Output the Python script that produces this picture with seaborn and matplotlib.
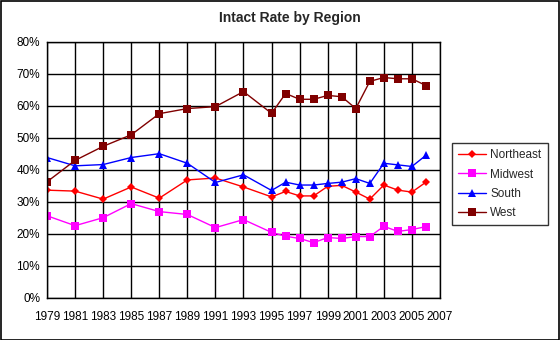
import matplotlib
matplotlib.use("Agg")
import matplotlib.pyplot as plt
import seaborn as sns
import pandas as pd
from matplotlib.patches import Rectangle
from matplotlib.ticker import FuncFormatter

years = [1979, 1981, 1983, 1985, 1987, 1989, 1991, 1993, 1995, 1996, 1997,
         1998, 1999, 2000, 2001, 2002, 2003, 2004, 2005, 2006]
northeast = [33.7, 33.4, 30.9, 34.7, 31.2, 36.9, 37.5, 34.7, 31.6, 33.3, 31.9,
             31.9, 34.9, 35.2, 33.1, 30.9, 35.3, 33.7, 33.1, 36.2]
midwest = [25.7, 22.6, 25.1, 29.5, 27.0, 26.1, 22.0, 24.5, 20.5, 19.3, 18.6,
           17.3, 18.9, 18.6, 19.2, 19.2, 22.4, 20.8, 21.4, 22.3]
south = [43.9, 41.3, 41.7, 43.9, 45.1, 42.1, 36.1, 38.5, 33.6, 36.2, 35.3,
         35.3, 35.8, 36.2, 37.3, 35.8, 42.1, 41.6, 41.1, 44.6]
west = [36.3, 43.0, 47.4, 51.0, 57.6, 59.2, 59.8, 64.5, 57.7, 63.9, 62.1,
        62.1, 63.3, 62.9, 59.2, 67.7, 68.9, 68.5, 68.5, 66.4]
regions = ["Northeast", "Midwest", "South", "West"]
series = [northeast, midwest, south, west]

rows = []
for name, vals in zip(regions, series):
    for y, v in zip(years, vals):
        rows.append({"Year": y, "Rate": v, "Region": name})
df = pd.DataFrame(rows)

sns.set_style("white")
plt.rcParams["font.family"] = ["Liberation Sans", "DejaVu Sans"]

fig = plt.figure(figsize=(5.6, 3.4), dpi=100)
ax = fig.add_axes([47/560, 1-298/340, (440-47)/560, (298-42)/340])

palette = {"Northeast": "#FF0000", "Midwest": "#FF00FF", "South": "#0000FF", "West": "#800000"}
markers = {"Northeast": "D", "Midwest": "s", "South": "^", "West": "s"}
sns.lineplot(data=df, x="Year", y="Rate", hue="Region", style="Region",
             hue_order=regions, style_order=regions,
             palette=palette, markers=markers, dashes=False,
             linewidth=1, markersize=5.5, markeredgewidth=0, ax=ax)
for line in ax.lines:
    if line.get_marker() == "D":
        line.set_markersize(4.5)

ax.set_xlim(1979, 2007)
ax.set_ylim(0, 80)
ax.set_xticks(range(1979, 2008, 2))
ax.set_yticks(range(0, 81, 10))
ax.yaxis.set_major_formatter(FuncFormatter(lambda v, p: f"{int(v)}%"))
ax.grid(True, color="black", linewidth=1)
ax.set_axisbelow(True)
for s in ax.spines.values():
    s.set_color("black")
    s.set_linewidth(1)
ax.tick_params(axis="both", length=0, labelsize=8.5, colors="black", pad=5)
ax.tick_params(axis="x", pad=9)
ax.set_xlabel("")
ax.set_ylabel("")

fig.text(290/560, 1-18/340, "Intact Rate by Region", ha="center", va="center",
         fontsize=10, fontweight="bold")

handles, labels = ax.get_legend_handles_labels()
for h in handles:
    if h.get_marker() == "D":
        h.set_markersize(4.5)
leg = ax.legend(handles, labels, loc="upper left",
                bbox_to_anchor=(452/560, 1-143/340), bbox_transform=fig.transFigure,
                frameon=True, fancybox=False, edgecolor="black", fontsize=8.5,
                handlelength=2.3, borderpad=0.55, labelspacing=0.6,
                borderaxespad=0, handletextpad=0.4)
leg.get_frame().set_linewidth(1)

fig.patches.append(Rectangle((0.5/560, 0.5/340), 1-1.5/560, 1-1.5/340, transform=fig.transFigure,
                             fill=False, edgecolor="black", linewidth=1.2))

fig.savefig("out.png", dpi=100)
